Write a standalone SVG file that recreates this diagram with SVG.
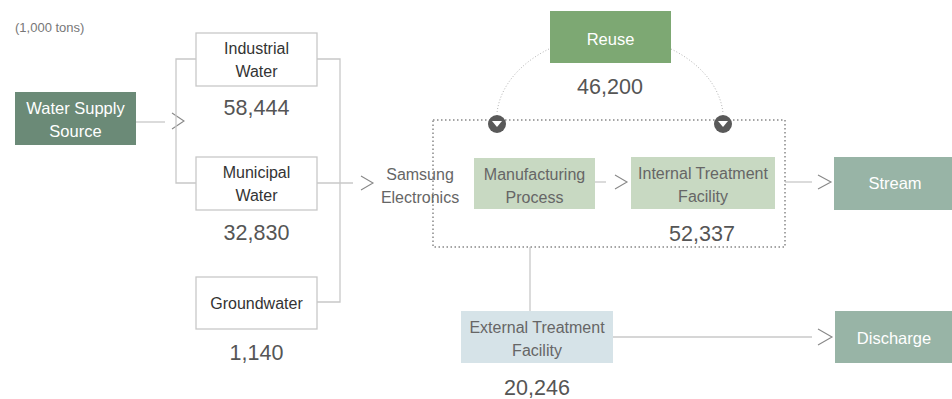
<svg xmlns="http://www.w3.org/2000/svg" width="952" height="399" viewBox="0 0 952 399">
<style>
text{font-family:"Liberation Sans",Arial,sans-serif;text-anchor:middle}
.lbl{font-size:16px;fill:#333}
.lblw{font-size:16.5px;fill:#fff}
.lblg{font-size:16px;fill:#666}
.num{font-size:21.5px;fill:#555}
.ln{stroke:#c8c8c8;stroke-width:1.3;fill:none}
.chev{stroke:#888;stroke-width:1.1;fill:none}
.dot{stroke:#a5a5a5;stroke-width:2;stroke-dasharray:1.5 2.5;fill:none}
.thin{stroke:#b5b5b5;stroke-width:1;stroke-dasharray:1 2;fill:none}
.wbox{fill:#fff;stroke:#c8c8c8;stroke-width:1.3}
</style>
<defs>
<g id="valve"><circle r="9" fill="#595959"/><path d="M-5 -3 L5 -3 L0 3 Z" fill="#fff"/></g>
</defs>
<rect width="952" height="399" fill="#fff"/>
<text x="15" y="32" style="font-size:13px;fill:#777;text-anchor:start">(1,000 tons)</text>

<g id="connectors">
<path class="ln" d="M136 122 H165"/>
<path class="chev" d="M172 113 L184 121 L172 129"/>
<path class="ln" d="M196 59 H176 V183 H196"/>
<path class="ln" d="M317 59 H340 V302 H317"/>
<path class="ln" d="M317 183 H353"/>
<path class="chev" d="M361 176 L373 183 L361 190"/>
<path class="ln" d="M595 182 H606"/>
<path class="chev" d="M615 175 L627 182 L615 189"/>
<path class="ln" d="M785 182 H812"/>
<path class="chev" d="M818 175 L831 182 L818 189"/>
<path class="ln" d="M530 247 V311"/>
<path class="ln" d="M613 337 H812"/>
<path class="chev" d="M818 329 L832 337 L818 345"/>
<path class="thin" d="M549 49 C522 62 500 85 497 113"/>
<path class="thin" d="M671 49 C698 62 720 85 723 113"/>
<rect class="dot" x="433" y="120" width="352" height="127"/>
<use href="#valve" x="497" y="124"/>
<use href="#valve" x="723" y="124"/>
</g>

<g id="water-supply">
<rect x="15" y="92" width="121" height="53" fill="#6b8a77"/>
<text class="lblw" x="75.5" y="114">Water Supply</text>
<text class="lblw" x="75.5" y="137">Source</text>
</g>
<g id="industrial">
<rect class="wbox" x="196" y="33" width="121" height="53"/>
<text class="lbl" x="256.5" y="54">Industrial</text>
<text class="lbl" x="256.5" y="77">Water</text>
<text class="num" x="256.5" y="115">58,444</text>
</g>
<g id="municipal">
<rect class="wbox" x="196" y="157" width="121" height="53"/>
<text class="lbl" x="256.5" y="178">Municipal</text>
<text class="lbl" x="256.5" y="201">Water</text>
<text class="num" x="256.5" y="240">32,830</text>
</g>
<g id="groundwater">
<rect class="wbox" x="196" y="277" width="121" height="52"/>
<text class="lbl" x="256.5" y="309">Groundwater</text>
<text class="num" x="256.5" y="360">1,140</text>
</g>
<g id="samsung">
<text class="lblg" x="420" y="180">Samsung</text>
<text class="lblg" x="420" y="203">Electronics</text>
</g>
<g id="reuse">
<rect x="550" y="11" width="121" height="52" fill="#7da873"/>
<text class="lblw" x="610.5" y="45">Reuse</text>
<text class="num" x="610" y="94">46,200</text>
</g>
<g id="manufacturing">
<rect x="474" y="158" width="121" height="51" fill="#c8d9c2"/>
<text class="lblg" x="534.5" y="180">Manufacturing</text>
<text class="lblg" x="534.5" y="203">Process</text>
</g>
<g id="internal">
<rect x="631" y="157" width="144" height="52" fill="#c8d9c2"/>
<text class="lblg" x="703" y="179">Internal Treatment</text>
<text class="lblg" x="703" y="202">Facility</text>
<text class="num" x="702" y="241">52,337</text>
</g>
<g id="stream">
<rect x="834" y="157" width="118" height="53" fill="#98b4a6"/>
<text class="lblw" x="895" y="189">Stream</text>
</g>
<g id="external">
<rect x="461" y="311" width="152" height="52" fill="#d6e3e8"/>
<text class="lblg" x="537" y="333">External Treatment</text>
<text class="lblg" x="537" y="356">Facility</text>
<text class="num" x="537" y="395">20,246</text>
</g>
<g id="discharge">
<rect x="835" y="311" width="117" height="52" fill="#98b4a6"/>
<text class="lblw" x="894" y="344">Discharge</text>
</g>
</svg>
